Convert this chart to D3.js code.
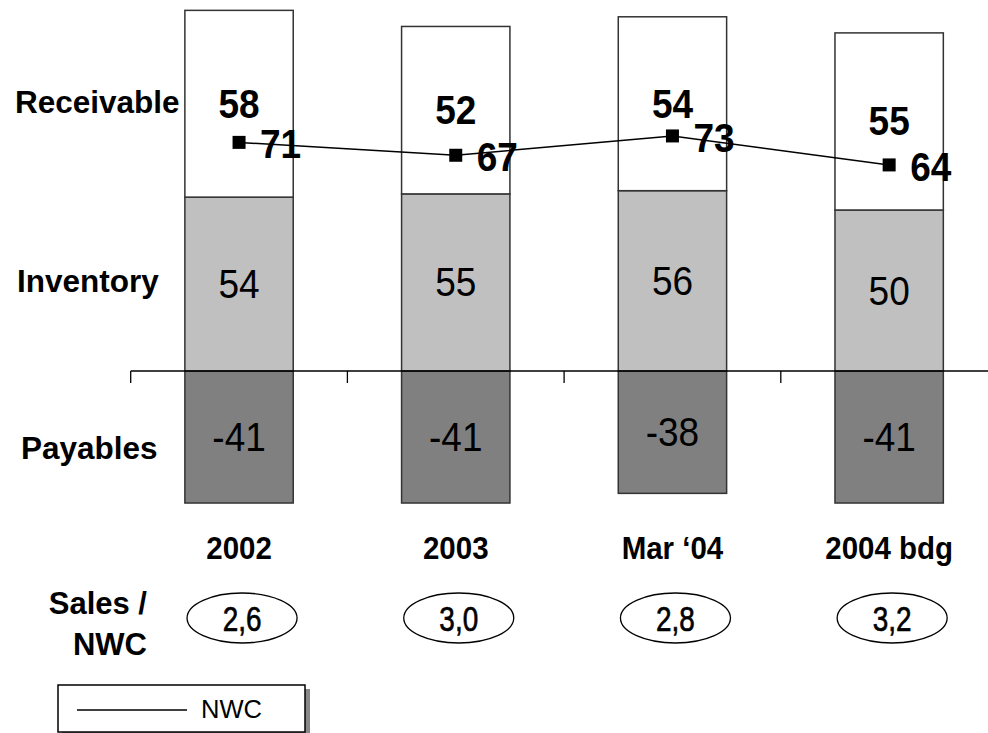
<!DOCTYPE html>
<html>
<head>
<meta charset="utf-8">
<script src="https://cdn.jsdelivr.net/npm/d3@7"></script>
<style>
  html, body { margin: 0; padding: 0; background: #fff; }
  svg { display: block; }
  text { font-family: "Liberation Sans", Arial, sans-serif; fill: #000; }
</style>
</head>
<body>
<svg id="chart" width="988" height="733"></svg>
<script>
// Net working capital components (days)
const categories = ["2002", "2003", "Mar \u201804", "2004 bdg"];
const receivable = [58, 52, 54, 55];
const inventory  = [54, 55, 56, 50];
const payables   = [-41, -41, -38, -41];
const nwc        = [71, 67, 73, 64];
const salesToNwc = [2.6, 3.0, 2.8, 3.2];
const rowLabels  = ["Receivable", "Inventory", "Payables"];

const svg = d3.select("#chart");

const x = d3.scaleBand()
  .domain(categories)
  .range([130.7, 997.5])
  .paddingInner(0.5)
  .paddingOuter(0.25);

const y = d3.scaleLinear()
  .domain([0, 100])
  .range([371, 49]);

const cx = c => x(c) + x.bandwidth() / 2;

// Stacked segments: payables below zero, inventory and receivable above
const segs = [];
categories.forEach((c, i) => {
  segs.push({ c, y0: payables[i], y1: 0, fill: "#808080", label: String(payables[i]), bold: false });
  segs.push({ c, y0: 0, y1: inventory[i], fill: "#c0c0c0", label: String(inventory[i]), bold: false });
  segs.push({ c, y0: inventory[i], y1: inventory[i] + receivable[i], fill: "#ffffff", label: String(receivable[i]), bold: true });
});

const bars = svg.append("g");
bars.selectAll("rect")
  .data(segs)
  .join("rect")
  .attr("x", d => x(d.c))
  .attr("width", x.bandwidth())
  .attr("y", d => y(d.y1))
  .attr("height", d => y(d.y0) - y(d.y1))
  .attr("fill", d => d.fill)
  .attr("stroke", "#333")
  .attr("stroke-width", 1.5);

// Category axis along zero, ticks between the bars
const axisG = svg.append("g");
axisG.append("line")
  .attr("x1", x.range()[0]).attr("x2", 988)
  .attr("y1", y(0)).attr("y2", y(0))
  .attr("stroke", "#000").attr("stroke-width", 1.3);
const tickXs = d3.range(categories.length + 1).map(i => x.range()[0] + i * x.step());
axisG.selectAll("line.tick")
  .data(tickXs)
  .join("line")
  .attr("class", "tick")
  .attr("x1", d => d).attr("x2", d => d)
  .attr("y1", y(0)).attr("y2", y(0) + 12)
  .attr("stroke", "#000").attr("stroke-width", 1.3);

// Segment values (slightly tall lettering)
bars.selectAll("text")
  .data(segs)
  .join("text")
  .attr("transform", d => `translate(${cx(d.c)},${(y(d.y0) + y(d.y1)) / 2}) scale(1,1.08)`)
  .attr("text-anchor", "middle")
  .attr("dominant-baseline", "central")
  .attr("font-size", 37)
  .attr("font-weight", d => d.bold ? "bold" : "normal")
  .text(d => d.label);

// NWC line with square markers
const nwcPts = categories.map((c, i) => ({ c, v: nwc[i] }));
svg.append("path")
  .datum(nwcPts)
  .attr("fill", "none")
  .attr("stroke", "#000")
  .attr("stroke-width", 1.5)
  .attr("d", d3.line().x(d => cx(d.c)).y(d => y(d.v)));
svg.selectAll("rect.marker")
  .data(nwcPts)
  .join("rect")
  .attr("class", "marker")
  .attr("x", d => cx(d.c) - 6.5)
  .attr("y", d => y(d.v) - 6.5)
  .attr("width", 13).attr("height", 13)
  .attr("fill", "#000");
svg.selectAll("text.nwc")
  .data(nwcPts)
  .join("text")
  .attr("class", "nwc")
  .attr("transform", d => `translate(${cx(d.c) + 21},${y(d.v) + 2}) scale(1,1.08)`)
  .attr("dominant-baseline", "central")
  .attr("font-size", 37)
  .attr("font-weight", "bold")
  .text(d => d.v);

// Row labels
const rowPos = [
  { t: rowLabels[0], x: 15, y: 113 },
  { t: rowLabels[1], x: 17, y: 292 },
  { t: rowLabels[2], x: 21, y: 459 }
];
svg.selectAll("text.row")
  .data(rowPos)
  .join("text")
  .attr("class", "row")
  .attr("x", d => d.x)
  .attr("y", d => d.y)
  .attr("font-size", 31.5)
  .attr("font-weight", "bold")
  .text(d => d.t);

// Category labels
svg.selectAll("text.cat")
  .data(categories)
  .join("text")
  .attr("class", "cat")
  .attr("transform", d => `translate(${cx(d)},559) scale(1,1.08)`)
  .attr("text-anchor", "middle")
  .attr("font-size", 29.5)
  .attr("font-weight", "bold")
  .text(d => d);

// Sales / NWC ratios in ellipses
svg.append("text")
  .attr("x", 147).attr("y", 614)
  .attr("text-anchor", "end")
  .attr("font-size", 31).attr("font-weight", "bold")
  .text("Sales /");
svg.append("text")
  .attr("x", 147).attr("y", 655)
  .attr("text-anchor", "end")
  .attr("font-size", 31).attr("font-weight", "bold")
  .text("NWC");

const fmt = v => d3.format(".1f")(v).replace(".", ",");
const ratios = categories.map((c, i) => ({ c, v: salesToNwc[i] }));
svg.selectAll("ellipse.ratio")
  .data(ratios)
  .join("ellipse")
  .attr("class", "ratio")
  .attr("cx", d => cx(d.c) + 3)
  .attr("cy", 618)
  .attr("rx", 55).attr("ry", 25)
  .attr("fill", "#fff")
  .attr("stroke", "#000")
  .attr("stroke-width", 1.3);
svg.selectAll("text.ratio")
  .data(ratios)
  .join("text")
  .attr("class", "ratio")
  .attr("transform", d => `translate(${cx(d.c) + 3},619) scale(0.9,1.15)`)
  .attr("text-anchor", "middle")
  .attr("dominant-baseline", "central")
  .attr("font-size", 31)
  .attr("stroke", "#000")
  .attr("stroke-width", 0.6)
  .text(d => fmt(d.v));

// Legend
const lg = svg.append("g");
lg.append("rect")
  .attr("x", 62).attr("y", 689)
  .attr("width", 248).attr("height", 50)
  .attr("fill", "#888");
lg.append("rect")
  .attr("x", 58).attr("y", 685)
  .attr("width", 247).attr("height", 47)
  .attr("fill", "#fff")
  .attr("stroke", "#000")
  .attr("stroke-width", 1.5);
lg.append("line")
  .attr("x1", 77).attr("x2", 187)
  .attr("y1", 710).attr("y2", 710)
  .attr("stroke", "#000").attr("stroke-width", 1.5);
lg.append("text")
  .attr("x", 201).attr("y", 718)
  .attr("font-size", 26)
  .attr("textLength", 61)
  .attr("lengthAdjust", "spacingAndGlyphs")
  .text("NWC");
</script>
</body>
</html>
